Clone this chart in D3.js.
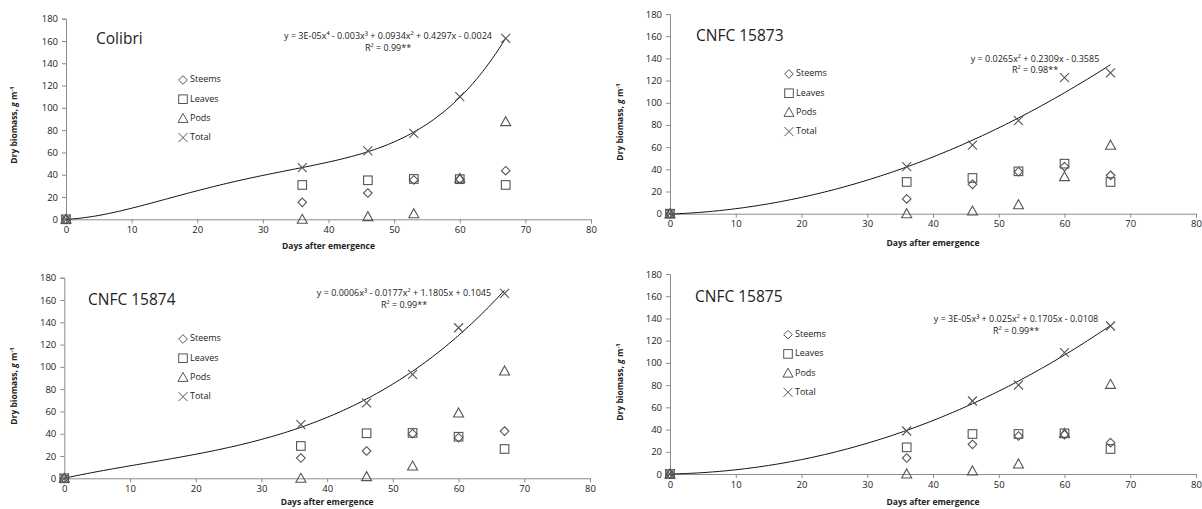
<!DOCTYPE html>
<html>
<head>
<meta charset="utf-8">
<script src="https://cdn.jsdelivr.net/npm/d3@7"></script>
<style>
  body { margin: 0; background: #fff; }
  svg text { font-family: "Open Sans", "Liberation Sans", sans-serif; fill: #222; }
</style>
</head>
<body>
<div id="chart"></div>
<script>
// sampling days
var days = [0, 36, 46, 53, 60, 67]

// cultivars, one per panel
var cultivars = ['Colibri', 'CNFC 15873', 'CNFC 15874', 'CNFC 15875']

// dry biomass, g m-1
var steems = [
    [0, 15.2, 23.6, 35.3, 36, 43.6],
    [0, 13.3, 26.5, 37.8, 42.4, 34.6],
    [0, 18.2, 24.5, 40, 36.4, 42.4],
    [0, 14.4, 26.7, 34.2, 35.4, 28.2]
]
var leaves = [
    [0, 30.8, 35, 36.2, 36, 30.8],
    [0, 28.6, 32.2, 38.2, 45.1, 28.6],
    [0, 29, 40.4, 40.7, 37.3, 26.3],
    [0, 24, 36, 36, 36.6, 22.5]
]
var pods = [
    [0, 0, 2.4, 5, 36.8, 87.6],
    [0, 0, 2.4, 8.1, 33.4, 61.7],
    [0, 0, 1.5, 11, 58.6, 96.3],
    [0, 0, 2.7, 9, 36.6, 80.7]
]
var total = [
    [0, 46.3, 61.3, 77.2, 110, 162.4],
    [0, 42.4, 61.9, 83.9, 122.6, 126.9],
    [0, 48.1, 67.6, 93.3, 135.1, 166],
    [0, 38.7, 65.7, 80.1, 109.2, 133.2]
]

// trendline degree and the printed equations
var degrees = [4, 2, 3, 3]
var equations = [
    ['y = 3E-05x⁴ - 0.003x³ + 0.0934x² + 0.4297x - 0.0024', 'R² = 0.99**'],
    ['y = 0.0265x² + 0.2309x - 0.3585', 'R² = 0.98**'],
    ['y = 0.0006x³ - 0.0177x² + 1.1805x + 0.1045', 'R² = 0.99**'],
    ['y = 3E-05x³ + 0.025x² + 0.1705x - 0.0108', 'R² = 0.99**']
]

var xTicks = [0, 10, 20, 30, 40, 50, 60, 70, 80]
var yTicks = [0, 20, 40, 60, 80, 100, 120, 140, 160, 180]
var legendNames = ['Steems', 'Leaves', 'Pods', 'Total']

// where each panel sits on the page
var layout = [
    { left: 66, right: 591, top: 18.7, bottom: 219.3, title: [96, 44], leg: [183, 80], eq: [388, 37], ylab: [15, 125], xlab: 249 },
    { left: 670, right: 1196, top: 14, bottom: 213.7, title: [696, 41], leg: [789, 74], eq: [1035, 59.5], ylab: [621, 122], xlab: 246 },
    { left: 64.3, right: 590, top: 277.7, bottom: 478.3, title: [88, 305], leg: [183, 339], eq: [404, 294], ylab: [15, 386], xlab: 505 },
    { left: 670, right: 1196, top: 274, bottom: 474, title: [695, 302], leg: [788, 334.7], eq: [1016, 320], ylab: [621, 382], xlab: 505 }
]

var axisColor = '#8c8c8c'
var markColor = '#555'

var svg = d3.select('#chart').append('svg')
    .attr('width', 1202)
    .attr('height', 509)

// least squares polynomial, same thing the spreadsheet trendline does
function polyfit(xs, ys, deg) {
    var s = 100
    var n = deg + 1
    var A = [], b = []
    for (var i = 0; i < n; i++) {
        A.push(new Array(n).fill(0))
        b.push(0)
    }
    xs.forEach(function (x, k) {
        var t = x / s
        for (var i = 0; i < n; i++) {
            b[i] += ys[k] * Math.pow(t, i)
            for (var j = 0; j < n; j++) A[i][j] += Math.pow(t, i + j)
        }
    })
    // gaussian elimination
    for (var c = 0; c < n; c++) {
        var p = c
        for (var r = c + 1; r < n; r++) if (Math.abs(A[r][c]) > Math.abs(A[p][c])) p = r
        var tmp = A[c]; A[c] = A[p]; A[p] = tmp
        tmp = b[c]; b[c] = b[p]; b[p] = tmp
        for (var r = c + 1; r < n; r++) {
            var f = A[r][c] / A[c][c]
            for (var j = c; j < n; j++) A[r][j] -= f * A[c][j]
            b[r] -= f * b[c]
        }
    }
    var coef = new Array(n).fill(0)
    for (var i = n - 1; i >= 0; i--) {
        var sum = b[i]
        for (var j = i + 1; j < n; j++) sum -= A[i][j] * coef[j]
        coef[i] = sum / A[i][i]
    }
    return function (x) {
        var t = x / s, y = 0
        for (var i = 0; i < n; i++) y += coef[i] * Math.pow(t, i)
        return y
    }
}

// marker shapes
function marker(g, kind, cx, cy) {
    if (kind === 0) {
        g.append('path').attr('d', 'M' + cx + ',' + (cy - 4.3) + 'L' + (cx + 4.3) + ',' + cy + 'L' + cx + ',' + (cy + 4.3) + 'L' + (cx - 4.3) + ',' + cy + 'Z')
    } else if (kind === 1) {
        g.append('rect').attr('x', cx - 4.3).attr('y', cy - 4.3).attr('width', 8.6).attr('height', 8.6)
    } else if (kind === 2) {
        g.append('path').attr('d', 'M' + cx + ',' + (cy - 5) + 'L' + (cx + 5) + ',' + (cy + 4) + 'L' + (cx - 5) + ',' + (cy + 4) + 'Z')
    } else {
        g.append('path').attr('d', 'M' + (cx - 4.5) + ',' + (cy - 4.5) + 'L' + (cx + 4.5) + ',' + (cy + 4.5) + 'M' + (cx + 4.5) + ',' + (cy - 4.5) + 'L' + (cx - 4.5) + ',' + (cy + 4.5))
    }
}

cultivars.forEach(function (name, p) {
    var L = layout[p]
    var x = d3.scaleLinear().domain([0, 80]).range([L.left, L.right])
    var y = d3.scaleLinear().domain([0, 180]).range([L.bottom, L.top])
    var g = svg.append('g')

    // axes
    var xa = g.append('g')
        .attr('transform', 'translate(0,' + L.bottom + ')')
        .call(d3.axisBottom(x).tickValues(xTicks).tickSize(4).tickPadding(3))
    var ya = g.append('g')
        .attr('transform', 'translate(' + L.left + ',0)')
        .call(d3.axisLeft(y).tickValues(yTicks).tickSize(4).tickPadding(4))
    ;[xa, ya].forEach(function (a) {
        a.select('.domain').attr('stroke', axisColor)
        a.selectAll('.tick line').attr('stroke', axisColor)
        a.selectAll('.tick text').attr('font-size', 9.5).attr('fill', '#222')
            .style('font-family', '"Open Sans", sans-serif')
    })

    // axis titles
    g.append('text')
        .attr('x', (L.left + L.right) / 2)
        .attr('y', L.xlab)
        .attr('text-anchor', 'middle')
        .attr('font-size', 8.5)
        .attr('font-weight', 'bold')
        .text('Days after emergence')
    var yl = g.append('text')
        .attr('transform', 'translate(' + L.ylab[0] + ',' + L.ylab[1] + ') rotate(-90)')
        .attr('text-anchor', 'middle')
        .attr('dominant-baseline', 'middle')
        .attr('font-size', 8.5)
        .attr('font-weight', 'bold')
    yl.append('tspan').text('Dry biomass,  ')
    yl.append('tspan').attr('font-style', 'italic').text('g')
    yl.append('tspan').text(' m')
    yl.append('tspan').attr('dy', -3).attr('font-size', 6).text('-1')

    // trendline for total
    var fit = polyfit(days, total[p], degrees[p])
    var curve = d3.range(0, 67.01, 0.5)
    g.append('path')
        .datum(curve)
        .attr('fill', 'none')
        .attr('stroke', '#111')
        .attr('stroke-width', 1)
        .attr('d', d3.line().x(function (d) { return x(d) }).y(function (d) { return y(fit(d)) }))

    // points
    var pts = g.append('g')
        .attr('fill', 'none')
        .attr('stroke', markColor)
        .attr('stroke-width', 1.1)
    ;[steems[p], leaves[p], pods[p], total[p]].forEach(function (series, k) {
        series.forEach(function (v, i) { marker(pts, k, x(days[i]), y(v)) })
    })

    // title
    g.append('text')
        .attr('x', L.title[0])
        .attr('y', L.title[1])
        .attr('font-size', 15.5)
        .attr('fill', '#111')
        .text(name)

    // equation
    equations[p].forEach(function (line, i) {
        g.append('text')
            .attr('x', L.eq[0])
            .attr('y', L.eq[1] + i * 11.5)
            .attr('text-anchor', 'middle')
            .attr('dominant-baseline', 'middle')
            .attr('font-size', 9)
            .text(line)
    })

    // legend
    var lg = g.append('g')
    legendNames.forEach(function (n, k) {
        var ly = L.leg[1] + k * 19.2
        var m = lg.append('g').attr('fill', 'none').attr('stroke', markColor).attr('stroke-width', 1)
        marker(m, k, L.leg[0], ly)
        lg.append('text')
            .attr('x', L.leg[0] + 7)
            .attr('y', ly)
            .attr('dominant-baseline', 'middle')
            .attr('font-size', 9)
            .text(n)
    })
})
</script>
</body>
</html>
